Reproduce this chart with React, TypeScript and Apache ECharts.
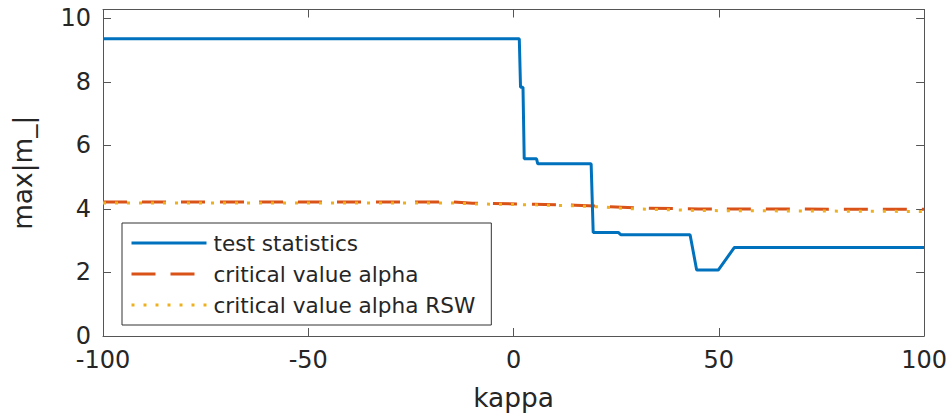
import React, { useEffect, useRef } from "react";
import * as echarts from "echarts";

const kappaStat = [-100, 1.4, 1.7, 2.3, 2.6, 5.6, 5.9, 18.9, 19.4, 25.5, 26.1, 43.0, 44.6, 49.9, 53.8, 100];
const testStatistics = [9.36, 9.36, 7.83, 7.83, 5.58, 5.58, 5.42, 5.42, 3.26, 3.26, 3.19, 3.19, 2.08, 2.08, 2.79, 2.79];

const kappaCrit = [-100, -15, -10, 5, 15, 20, 30, 45, 100];
const criticalAlpha = [4.22, 4.22, 4.18, 4.15, 4.12, 4.09, 4.03, 4.0, 3.99];
const criticalAlphaRSW = [4.19, 4.19, 4.16, 4.13, 4.1, 4.07, 4.0, 3.95, 3.92];

const seriesNames = ["test statistics", "critical value alpha", "critical value alpha RSW"];
const xTicks = { min: -100, max: 100, interval: 50 };
const yTicks = { min: 0, max: 10.28, interval: 2 };

const FONT = "DejaVu Sans";
const INK = "#262626";
const AXIS = "#555555";

export default function App() {
  const ref = useRef<HTMLDivElement>(null);
  useEffect(() => {
    document.body.style.margin = "0";
    if (!ref.current) return;
    const chart = echarts.init(ref.current, undefined, { renderer: "svg" });
    const zip = (xs: number[], ys: number[]) => xs.map((x, i) => [x, ys[i]]);
    const axisCommon = {
      axisLine: { show: true, onZero: false, lineStyle: { color: AXIS, width: 1 } },
      axisTick: { show: true, inside: true, length: 8, lineStyle: { color: AXIS, width: 1 } },
      splitLine: { show: false },
    };
    chart.setOption({
      animation: false,
      backgroundColor: "#ffffff",
      grid: { left: 103, right: 23, top: 9.5, bottom: 75.5, containLabel: false },
      xAxis: [
        {
          type: "value",
          min: xTicks.min,
          max: xTicks.max,
          interval: xTicks.interval,
          ...axisCommon,
          axisLabel: { color: INK, fontFamily: FONT, fontSize: 24, margin: 12 },
          name: "kappa",
          nameLocation: "middle",
          nameGap: 48,
          nameTextStyle: { color: INK, fontFamily: FONT, fontSize: 26.4 },
        },
        {
          type: "value",
          position: "top",
          min: xTicks.min,
          max: xTicks.max,
          interval: xTicks.interval,
          ...axisCommon,
          axisLabel: { show: false },
        },
      ],
      yAxis: [
        {
          type: "value",
          min: yTicks.min,
          max: yTicks.max,
          interval: yTicks.interval,
          ...axisCommon,
          axisLabel: {
            color: INK,
            fontFamily: FONT,
            fontSize: 24,
            margin: 12,
            formatter: (v: number) =>
              Math.abs(v - Math.round(v)) < 1e-6 && Math.round(v) % 2 === 0 ? String(Math.round(v)) : "",
          },
          name: "max|m_|",
          nameLocation: "middle",
          nameGap: 68,
          nameTextStyle: { color: INK, fontFamily: FONT, fontSize: 26.4 },
        },
        {
          type: "value",
          position: "right",
          min: yTicks.min,
          max: yTicks.max,
          interval: yTicks.interval,
          ...axisCommon,
          axisLabel: { show: false },
        },
      ],
      legend: {
        orient: "vertical",
        left: 122,
        top: 223,
        padding: [4.5, 16, 4.5, 8],
        itemGap: 0,
        itemWidth: 75,
        itemHeight: 2,
        itemStyle: { opacity: 0 },
        lineStyle: { width: 3 },
        backgroundColor: "#ffffff",
        borderColor: "#333333",
        borderWidth: 1,
        borderRadius: 0,
        textStyle: { color: INK, fontFamily: FONT, fontSize: 21.6, lineHeight: 31, padding: [0, 0, 0, 2] },
        data: seriesNames,
      },
      series: [
        {
          name: seriesNames[0],
          type: "line",
          data: zip(kappaStat, testStatistics),
          symbol: "none",
          z: 4,
          lineStyle: { color: "#0072BD", width: 3 },
          itemStyle: { color: "#0072BD" },
        },
        {
          name: seriesNames[1],
          type: "line",
          data: zip(kappaCrit, criticalAlpha),
          symbol: "none",
          z: 2,
          lineStyle: { color: "#D95319", width: 3, type: [24, 15] },
          itemStyle: { color: "#D95319" },
        },
        {
          name: seriesNames[2],
          type: "line",
          data: zip(kappaCrit, criticalAlphaRSW),
          symbol: "none",
          z: 3,
          lineStyle: { color: "#EDB120", width: 3, type: [3, 9] },
          itemStyle: { color: "#EDB120" },
        },
      ],
    });
    return () => chart.dispose();
  }, []);
  return <div ref={ref} style={{ width: 950, height: 415 }} />;
}
